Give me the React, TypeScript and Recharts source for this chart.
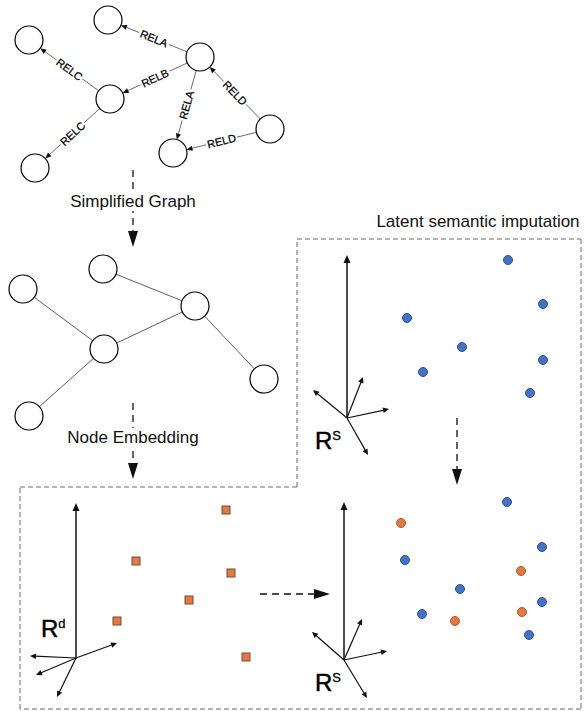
import { ScatterChart, Scatter, XAxis, YAxis, ReferenceLine } from "recharts";

const W = 585;
const H = 711;
const FONT = "'Liberation Sans', Arial, sans-serif";

// top: relational graph (node centres)
const relNodes = [
  { id: "A", x: 108, y: 20 },
  { id: "B", x: 29, y: 40 },
  { id: "C", x: 200, y: 57 },
  { id: "D", x: 110, y: 99 },
  { id: "E", x: 35, y: 168 },
  { id: "F", x: 173, y: 153 },
  { id: "G", x: 270, y: 129 },
];
const relEdges = [
  { from: "C", to: "A", rel: "RELA" },
  { from: "D", to: "B", rel: "RELC" },
  { from: "C", to: "D", rel: "RELB" },
  { from: "D", to: "E", rel: "RELC" },
  { from: "C", to: "F", rel: "RELA" },
  { from: "G", to: "C", rel: "RELD" },
  { from: "G", to: "F", rel: "RELD" },
];

// middle: simplified graph
const simpleNodes = [
  { id: "1", x: 103, y: 269 },
  { id: "2", x: 23, y: 289 },
  { id: "3", x: 195, y: 306 },
  { id: "4", x: 104, y: 349 },
  { id: "5", x: 264, y: 379 },
  { id: "6", x: 29, y: 416 },
];
const simpleEdges = [
  ["1", "3"],
  ["2", "4"],
  ["4", "3"],
  ["3", "5"],
  ["4", "6"],
];

// embeddings
const embedSquares = [
  { x: 226, y: 510 },
  { x: 136, y: 561 },
  { x: 231, y: 573 },
  { x: 189, y: 600 },
  { x: 117, y: 621 },
  { x: 246, y: 657 },
];
const semanticDots = [
  { x: 508, y: 260 },
  { x: 543, y: 304 },
  { x: 407, y: 318 },
  { x: 462, y: 347 },
  { x: 543, y: 360 },
  { x: 423, y: 372 },
  { x: 530, y: 393 },
];
const knownDots = [
  { x: 507, y: 502 },
  { x: 542, y: 547 },
  { x: 405, y: 560 },
  { x: 460, y: 589 },
  { x: 542, y: 602 },
  { x: 422, y: 614 },
  { x: 529, y: 635 },
];
const imputedDots = [
  { x: 401, y: 523 },
  { x: 521, y: 571 },
  { x: 522, y: 612 },
  { x: 455, y: 621 },
];

// coordinate-system glyphs: origin + arrow tips (first one is the main vertical axis)
const axisGlyphs = [
  { origin: { x: 347, y: 418 }, tips: [{ x: 347, y: 255 }, { x: 313, y: 390 }, { x: 363, y: 377 }, { x: 389, y: 409 }, { x: 368, y: 455 }] },
  { origin: { x: 344, y: 660 }, tips: [{ x: 344, y: 502 }, { x: 312, y: 632 }, { x: 362, y: 619 }, { x: 387, y: 651 }, { x: 367, y: 698 }] },
  { origin: { x: 76, y: 658 }, tips: [{ x: 76, y: 503 }, { x: 30, y: 656 }, { x: 36, y: 675 }, { x: 57, y: 697 }, { x: 117, y: 643 }] },
];
const axisLabels = [
  { x: 315, y: 449, base: "R", sup: "S" },
  { x: 315, y: 691, base: "R", sup: "S" },
  { x: 41, y: 637, base: "R", sup: "d" },
];

// dashed outline of the two embedding panels
const frame = [
  { x: 297, y: 239 },
  { x: 581, y: 239 },
  { x: 581, y: 709 },
  { x: 20, y: 709 },
  { x: 20, y: 487 },
  { x: 297, y: 487 },
];

const flowArrows = [
  { from: { x: 133, y: 170 }, to: { x: 133, y: 247 } },
  { from: { x: 133, y: 403 }, to: { x: 133, y: 479 } },
  { from: { x: 457, y: 418 }, to: { x: 457, y: 485 } },
  { from: { x: 260, y: 594 }, to: { x: 330, y: 594 } },
];

const captions = [
  { x: 133, y: 207, text: "Simplified Graph" },
  { x: 133, y: 443, text: "Node Embedding" },
  { x: 478, y: 227, text: "Latent semantic imputation" },
];

const NODE_R = 14;

function trim(x1: number, y1: number, x2: number, y2: number, a: number, b: number) {
  const dx = x2 - x1;
  const dy = y2 - y1;
  const len = Math.hypot(dx, dy) || 1;
  const ux = dx / len;
  const uy = dy / len;
  return { x1: x1 + ux * a, y1: y1 + uy * a, x2: x2 - ux * b, y2: y2 - uy * b, ux, uy };
}

function head(x: number, y: number, ux: number, uy: number, len: number, hw: number) {
  const bx = x - ux * len;
  const by = y - uy * len;
  return `${x},${y} ${bx - uy * hw},${by + ux * hw} ${bx + uy * hw},${by - ux * hw}`;
}

const relEdgeShape = (rel: string) => (p: any) => {
  const t = trim(p.x1, p.y1, p.x2, p.y2, NODE_R, NODE_R);
  const mx = (t.x1 + t.x2) / 2;
  const my = (t.y1 + t.y2) / 2;
  let ang = (Math.atan2(t.y2 - t.y1, t.x2 - t.x1) * 180) / Math.PI;
  if (ang > 90) ang -= 180;
  if (ang < -90) ang += 180;
  const hl = 6;
  return (
    <g>
      <line x1={t.x1} y1={t.y1} x2={t.x2 - t.ux * hl} y2={t.y2 - t.uy * hl} stroke="#444" strokeWidth={0.8} />
      <polygon points={head(t.x2, t.y2, t.ux, t.uy, hl, 2.6)} fill="#111" />
      <g transform={`translate(${mx},${my}) rotate(${ang})`}>
        <rect x={-16} y={-6} width={32} height={12} fill="#fff" />
        <text x={0} y={4} textAnchor="middle" fontSize={11} fontFamily={FONT} fill="#000" stroke="#000" strokeWidth={0.25}>
          {rel}
        </text>
      </g>
    </g>
  );
};

const plainEdgeShape = (p: any) => {
  const t = trim(p.x1, p.y1, p.x2, p.y2, NODE_R, NODE_R);
  return <line x1={t.x1} y1={t.y1} x2={t.x2} y2={t.y2} stroke="#333" strokeWidth={0.8} />;
};

const axisShape = (main: boolean) => (p: any) => {
  const t = trim(p.x1, p.y1, p.x2, p.y2, 0, 0);
  const hl = main ? 8 : 6;
  return (
    <g>
      <line x1={t.x1} y1={t.y1} x2={t.x2 - t.ux * (hl - 1)} y2={t.y2 - t.uy * (hl - 1)} stroke="#111" strokeWidth={main ? 1.5 : 1.2} />
      <polygon points={head(t.x2, t.y2, t.ux, t.uy, hl, main ? 3.5 : 2.8)} fill="#111" />
    </g>
  );
};

const flowShape = (p: any) => {
  const t = trim(p.x1, p.y1, p.x2, p.y2, 0, 0);
  const hl = 16;
  return (
    <g>
      <line x1={t.x1} y1={t.y1} x2={t.x2 - t.ux * (hl - 2)} y2={t.y2 - t.uy * (hl - 2)} stroke="#111" strokeWidth={1.3} strokeDasharray="7 5" />
      <polygon points={head(t.x2, t.y2, t.ux, t.uy, hl, 5)} fill="#111" />
    </g>
  );
};

const frameShape = (p: any) => (
  <line x1={p.x1} y1={p.y1} x2={p.x2} y2={p.y2} stroke="#6a6a6a" strokeWidth={1} strokeDasharray="5 3" />
);

const nodeShape = (p: any) => <circle cx={p.cx} cy={p.cy} r={NODE_R} fill="#fff" stroke="#000" strokeWidth={1.2} />;

const dotShape = (fill: string, stroke: string) => (p: any) => (
  <circle cx={p.cx} cy={p.cy} r={4.5} fill={fill} stroke={stroke} strokeWidth={1} />
);

const squareShape = (p: any) => (
  <rect x={p.cx - 4} y={p.cy - 4} width={8} height={8} fill="#E07B45" stroke="#7a4a30" strokeWidth={1} />
);

const captionShape = (p: any) => {
  const d = p.payload;
  return (
    <g>
      <rect x={p.cx - d.text.length * 4.3} y={p.cy - 15} width={d.text.length * 8.6} height={19} fill="#fff" />
      <text x={p.cx} y={p.cy} textAnchor="middle" fontSize={17} fontFamily={FONT} fill="#111">
        {d.text}
      </text>
    </g>
  );
};

const axisLabelShape = (p: any) => {
  const d = p.payload;
  return (
    <text x={p.cx} y={p.cy} fontSize={24} fontFamily={FONT} fill="#000" stroke="#000" strokeWidth={0.5}>
      {d.base}
      <tspan fontSize={13} dy={-9} strokeWidth={0.3}>
        {d.sup}
      </tspan>
    </text>
  );
};

export default function App() {
  const byId = (list: { id: string; x: number; y: number }[], id: string) => list.find((n) => n.id === id)!;

  return (
    <div style={{ position: "absolute", left: 0, top: 0, background: "#fff" }}>
      <ScatterChart width={W} height={H} margin={{ top: 0, right: 0, bottom: 0, left: 0 }}>
        <XAxis type="number" dataKey="x" domain={[0, W]} hide />
        <YAxis type="number" dataKey="y" domain={[0, H]} reversed hide />

        {frame.map((pt, i) => {
          const nx = frame[(i + 1) % frame.length];
          return <ReferenceLine key={`fr${i}`} segment={[pt, nx]} shape={frameShape} />;
        })}

        {relEdges.map((e, i) => {
          const a = byId(relNodes, e.from);
          const b = byId(relNodes, e.to);
          return (
            <ReferenceLine
              key={`re${i}`}
              segment={[{ x: a.x, y: a.y }, { x: b.x, y: b.y }]}
              shape={relEdgeShape(e.rel)}
            />
          );
        })}

        {simpleEdges.map(([f, t], i) => {
          const a = byId(simpleNodes, f);
          const b = byId(simpleNodes, t);
          return <ReferenceLine key={`se${i}`} segment={[{ x: a.x, y: a.y }, { x: b.x, y: b.y }]} shape={plainEdgeShape} />;
        })}

        {axisGlyphs.map((g, gi) =>
          g.tips.map((tip, ti) => (
            <ReferenceLine key={`ax${gi}-${ti}`} segment={[g.origin, tip]} shape={axisShape(ti === 0)} />
          ))
        )}

        {flowArrows.map((f, i) => (
          <ReferenceLine key={`fl${i}`} segment={[f.from, f.to]} shape={flowShape} />
        ))}

        <Scatter data={relNodes} shape={nodeShape} isAnimationActive={false} />
        <Scatter data={simpleNodes} shape={nodeShape} isAnimationActive={false} />
        <Scatter data={embedSquares} shape={squareShape} isAnimationActive={false} />
        <Scatter data={semanticDots} shape={dotShape("#4472C4", "#2F528F")} isAnimationActive={false} />
        <Scatter data={knownDots} shape={dotShape("#4472C4", "#2F528F")} isAnimationActive={false} />
        <Scatter data={imputedDots} shape={dotShape("#E07B45", "#A85A2E")} isAnimationActive={false} />
        <Scatter data={captions} shape={captionShape} isAnimationActive={false} />
        <Scatter data={axisLabels} shape={axisLabelShape} isAnimationActive={false} />
      </ScatterChart>
    </div>
  );
}
